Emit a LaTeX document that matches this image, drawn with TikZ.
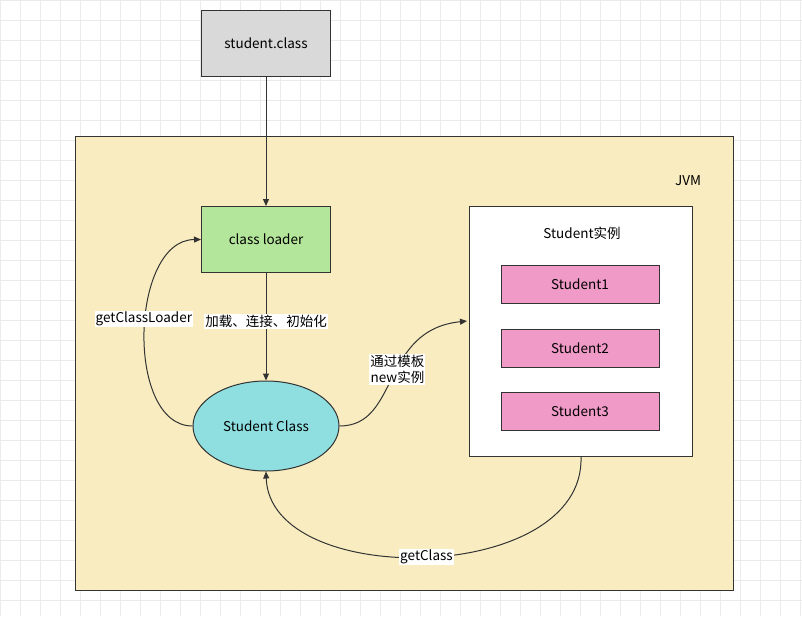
\documentclass[tikz,border=0pt]{standalone}
\usepackage{fontspec}
\setmainfont{Noto Sans CJK SC}
\usepackage{tikz}
\usetikzlibrary{positioning,shapes.geometric,arrows.meta}
\definecolor{jvmbg}{HTML}{F8ECC0}
\definecolor{grayfill}{HTML}{D9D9D9}
\definecolor{greenfill}{HTML}{B3E59A}
\definecolor{cyanfill}{HTML}{8FDFE0}
\definecolor{pinkfill}{HTML}{F09AC8}
\definecolor{edgecol}{HTML}{333333}
\begin{document}
\begin{tikzpicture}[x=1pt,y=-1pt,font=\fontsize{13.5}{16}\selectfont,
  box/.style={draw=edgecol, line width=1pt, minimum width=129pt, minimum height=66pt},
  inst/.style={draw=edgecol, fill=pinkfill, line width=1pt, minimum width=158pt, minimum height=38pt},
  conn/.style={draw=edgecol, line width=1pt, -{Triangle[length=7pt,width=6pt]}},
  lbl/.style={fill=white, inner sep=1pt, align=center}]
\useasboundingbox (0,0) rectangle (802,616);
\fill[white] (0,0) rectangle (802,616);
\draw[black!8, step=20pt] (0,0) grid (802,616);
% JVM area
\node[draw=edgecol, fill=jvmbg, line width=1pt, minimum width=658pt, minimum height=454pt, anchor=north west] (jvm) at (75,136) {};
\node (jvmlbl) at (688,181) {JVM};
\node[box, fill=grayfill, anchor=north west] (file) at (201,10) {student.class};
\node[box, fill=greenfill, anchor=north west] (loader) at (201,206) {class loader};
\node[ellipse, draw=edgecol, fill=cyanfill, line width=1pt, minimum width=146pt, minimum height=90pt] (cls) at (266,426) {Student Class};
% instances
\node[draw=edgecol, fill=white, line width=1pt, minimum width=223pt, minimum height=250pt, anchor=north west] (objs) at (469,206) {};
\node (objslbl) at (582,233) {Student实例};
\node[inst] (s1) at (580,284) {Student1};
\node[inst] (s2) at (580,348) {Student2};
\node[inst] (s3) at (580,411) {Student3};
% connectors
\draw[conn] (file) -- (loader);
\draw[conn] (loader) -- node[lbl, pos=0.45] (loadlbl) {加载、连接、初始化} (cls);
\draw[conn] (cls.west) .. controls (125,426) and (130,240) .. node[lbl, pos=0.55, xshift=-2pt] (gcl) {getClassLoader} (loader.west);
\draw[conn] (cls.east) .. controls (400,426) and (380,330) .. node[lbl, pos=0.55] (newlbl) {通过模板\\new实例} (467,321);
\draw[conn] (objs.south) .. controls (585,585) and (270,590) .. node[lbl, pos=0.5] (gc) {getClass} (cls.south);
\end{tikzpicture}
\end{document}
